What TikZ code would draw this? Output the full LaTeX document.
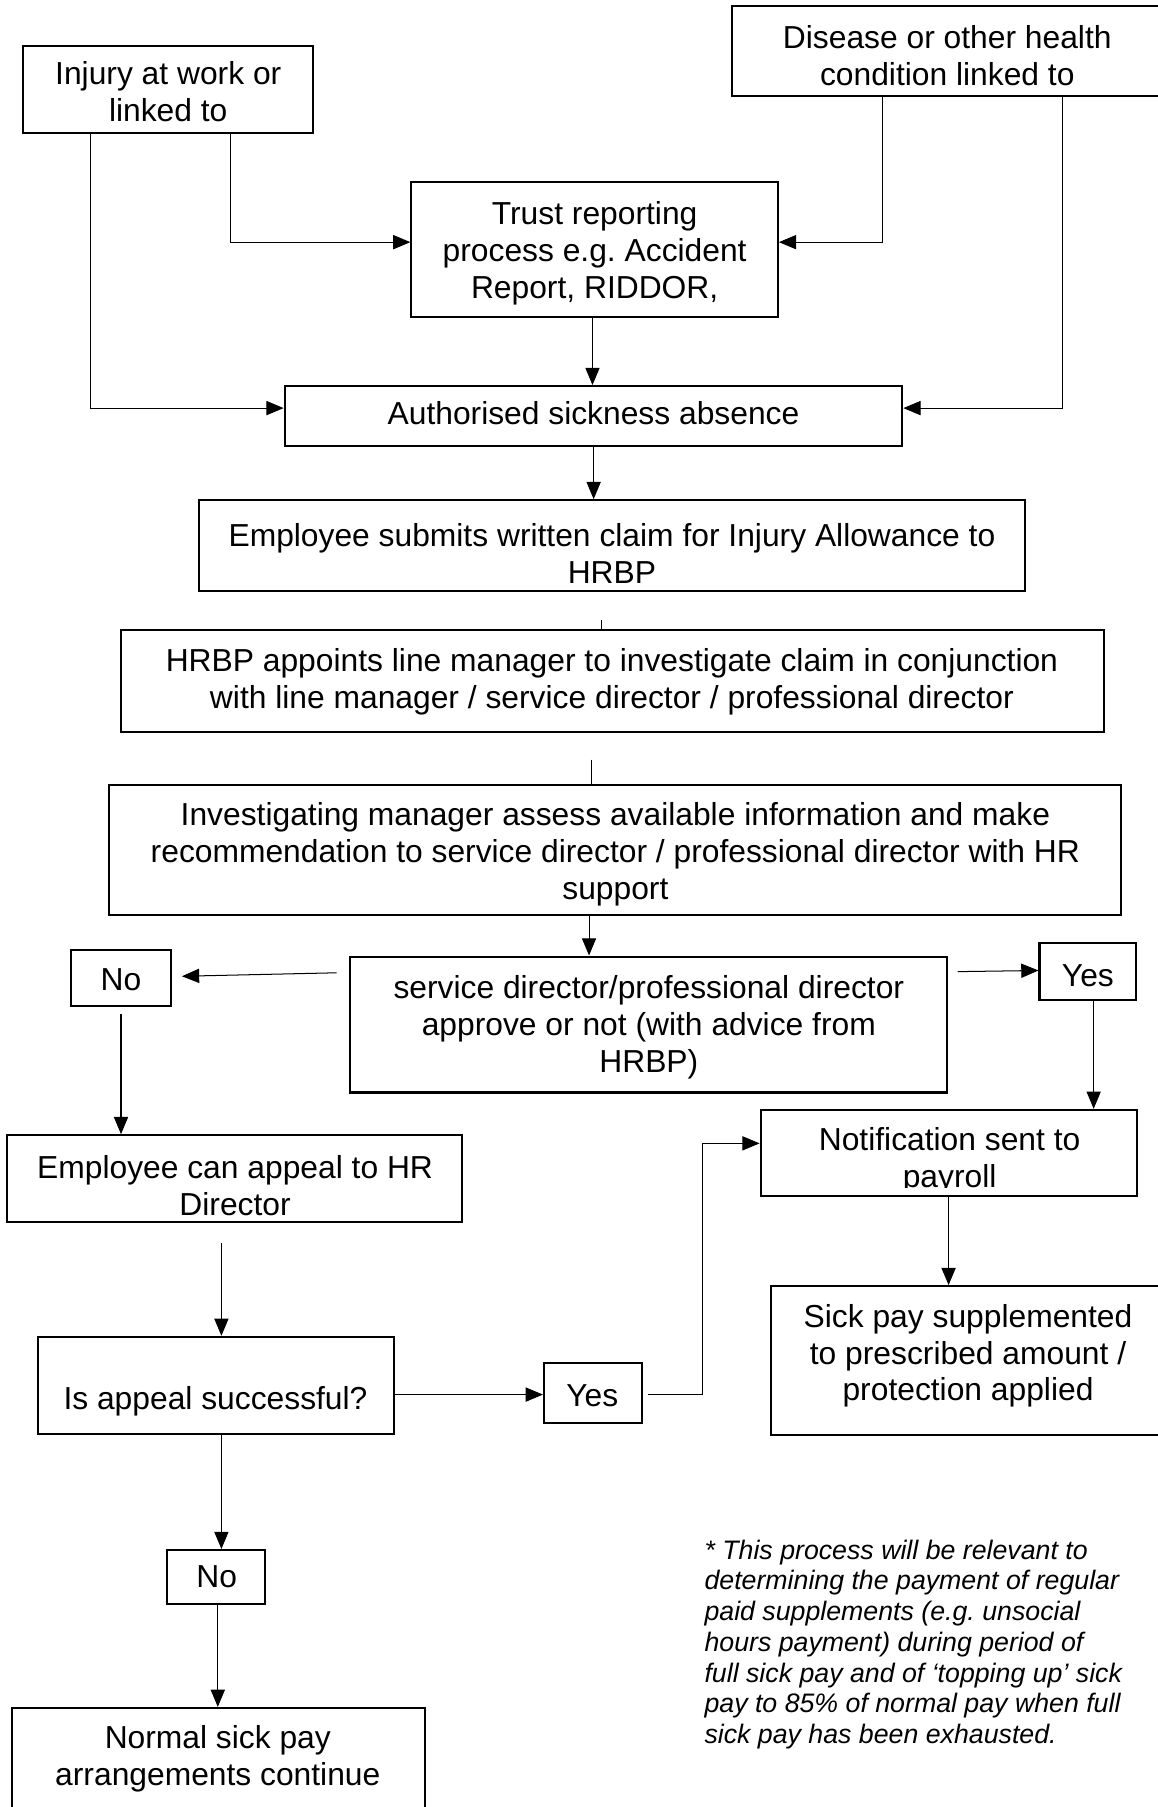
\documentclass[tikz,border=0pt]{standalone}
\usepackage{fontspec}
\setmainfont{Liberation Sans}
\usetikzlibrary{arrows.meta,calc,fit}
\frenchspacing
\begin{document}
\begin{tikzpicture}[x=0.02cm,y=-0.02cm,
  box/.style={draw, line width=1pt, inner sep=0pt},
  txt/.style={inner sep=0pt, align=center, yshift=-0.05cm, font=\fontsize{15.7}{18.2}\selectfont},
  notetxt/.style={inner sep=0pt, align=left, font=\fontsize{13.2}{15.2}\selectfont\itshape},
  conn/.style={line width=0.5pt, -{Triangle[length=8.5pt,width=7pt]}},
  tick/.style={line width=0.5pt}]
\useasboundingbox (0,0) rectangle (1004,1568);

% boxes
\node[box, fit={(20,40) (272,115)}] (inj) {};
\node[box, fit={(635,5) (1010,83)}] (dis) {};
\node[box, fit={(357,158) (675,275)}] (trust) {};
\node[box, fit={(247,335) (783,387)}] (auth) {};
\node[box, fit={(173,434) (889,513)}] (emp) {};
\node[box, fit={(105,547) (958,635)}] (hrbp) {};
\node[box, fit={(95,681) (973,794)}] (inv) {};
\node[box, fit={(304,830) (822,948)}] (sd) {};
\node[box, fit={(62,824) (148,873)}] (no1) {};
\node[box, fit={(902,818) (986,868)}] (yes1) {};
\node[box, fit={(660,963) (987,1038)}] (notif) {};
\node[box, fit={(6,985) (401,1060)}] (app) {};
\node[box, fit={(669,1116) (1010,1245)}] (sick) {};
\node[box, fit={(33,1160) (342,1244)}] (isap) {};
\node[box, fit={(472,1183) (557,1235)}] (yes2) {};
\node[box, fit={(145,1345) (230,1392)}] (no2) {};
\node[box, fit={(10,1482) (369,1580)}] (norm) {};

% texts
\node[txt] (inj-t) at (146,77) {Injury at work or\\linked to};
\node[txt] (dis-t) at (822,46) {Disease or other health\\condition linked to};
\node[txt] (trust-t) at (516,217) {Trust reporting\\process e.g. Accident\\Report, RIDDOR,};
\node[txt] (auth-t) at (515,356) {Authorised sickness absence};
\node[txt] (emp-t) at (531,478) {Employee submits written claim for Injury Allowance to\\HRBP};
\node[txt] (hrbp-t) at (531,589) {HRBP appoints line manager to investigate claim in conjunction\\with line manager / service director / professional director};
\node[txt] (inv-t) at (534,739) {Investigating manager assess available information and make\\recommendation to service director / professional director with HR\\support};
\node[txt] (sd-t) at (563,889) {service director/professional director\\approve or not (with advice from\\HRBP)};
\node[txt] (no1-t) at (105,848) {No};
\node[txt] (yes1-t) at (944,844) {Yes};
\begin{scope}
  \clip (660,963) rectangle (987,1030.5);
  \node[txt] (notif-t) at (824,1005) {Notification sent to\\payroll};
\end{scope}
\node[txt] (app-t) at (204,1026) {Employee can appeal to HR\\Director};
\node[txt] (sick-t) at (840,1174) {Sick pay supplemented\\to prescribed amount /\\protection applied};
\node[txt] (isap-t) at (187,1213) {Is appeal successful?};
\node[txt] (yes2-t) at (514,1209) {Yes};
\node[txt] (no2-t) at (188,1366) {No};
\node[txt] (norm-t) at (189,1524) {Normal sick pay\\arrangements continue};
\node[notetxt, anchor=west] (note) at (611,1427) {* This process will be relevant to\\determining the payment of regular\\paid supplements (e.g. unsocial\\hours payment) during period of\\full sick pay and of ‘topping up’ sick\\pay to 85\% of normal pay when full\\sick pay has been exhausted.};

% helper coordinates
\coordinate (c1) at ($(inj.south west)+(181,0)$);
\coordinate (c2) at ($(inj.south west)+(59,0)$);
\coordinate (c3) at ($(dis.south west)+(132,0)$);
\coordinate (c4) at ($(dis.south west)+(288,0)$);
\coordinate (tw) at ($(trust.north west)+(0,53)$);
\coordinate (te) at ($(trust.north east)+(0,53)$);
\coordinate (aw) at ($(auth.north west)+(0,20)$);
\coordinate (ae) at ($(auth.north east)+(0,20)$);
\coordinate (ts) at ($(trust.south west)+(158,0)$);
\coordinate (as) at ($(auth.south west)+(269,0)$);
\coordinate (h1) at ($(hrbp.north west)+(418,0)$);
\coordinate (i1) at ($(inv.north west)+(419,0)$);
\coordinate (is) at ($(inv.south west)+(417,0)$);
\coordinate (sdw) at ($(sd.north west)+(-11,15)$);
\coordinate (sde) at ($(sd.north east)+(8,14)$);
\coordinate (n1e) at ($(no1.north east)+(9,24)$);
\coordinate (y1w) at ($(yes1.north west)+(0,25)$);
\coordinate (n1s) at ($(no1.south)+(0,6)$);
\coordinate (y1s) at ($(yes1.south)+(5,0)$);
\coordinate (ns) at ($(notif.south west)+(164,0)$);
\coordinate (a1) at ($(app.south west)+(187,18)$);
\coordinate (ie) at ($(isap.north east)+(0,51)$);
\coordinate (y2e) at ($(yes2.north east)+(4,28)$);
\coordinate (nw) at ($(notif.north west)+(0,30)$);
\coordinate (i2) at ($(isap.south west)+(160,0)$);
\coordinate (n2s) at ($(no2.south)+(1.5,0)$);

% connectors
\draw[conn] (c1) |- (tw);
\draw[conn] (c2) |- (aw);
\draw[conn] (c3) |- (te);
\draw[conn] (c4) |- (ae);
\draw[conn] (ts) -- (ts |- auth.north);
\draw[conn] (as) -- (as |- emp.north);
\draw[tick] ($(h1)+(0,-8)$) -- (h1);
\draw[tick] ($(i1)+(0,-21)$) -- (i1);
\draw[conn] (is) -- (is |- sd.north);
\draw[conn] (sdw) -- (n1e);
\draw[conn] (sde) -- (y1w);
\draw[conn] (n1s) -- (n1s |- app.north);
\draw[conn] (y1s) -- (y1s |- notif.north);
\draw[conn] (ns) -- (ns |- sick.north);
\draw[conn] (a1) -- (a1 |- isap.north);
\draw[conn] (ie) -- (ie -| yes2.west);
\draw[conn] (y2e) -- ++(48,0) |- (nw);
\draw[conn] (i2) -- (i2 |- no2.north);
\draw[conn] (n2s) -- (n2s |- norm.north);
\end{tikzpicture}
\end{document}
